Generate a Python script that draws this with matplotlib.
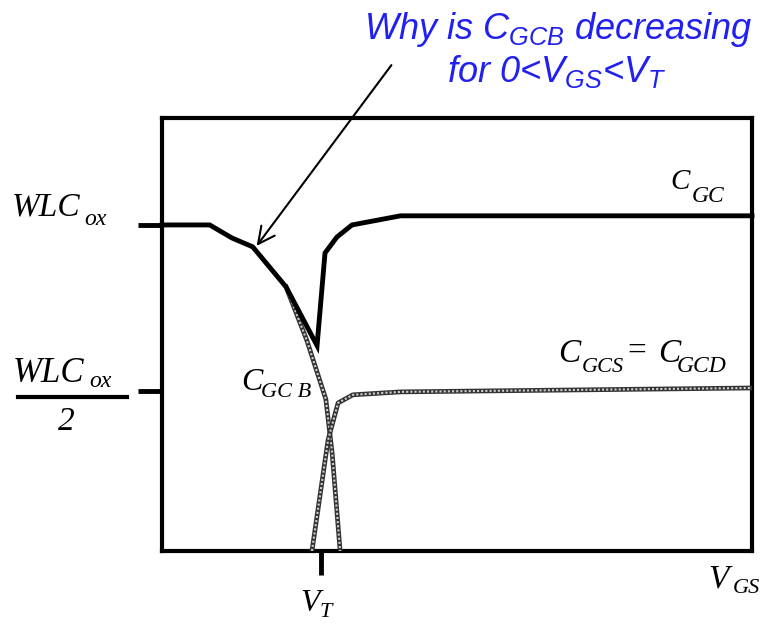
import matplotlib
matplotlib.use("Agg")
import matplotlib.pyplot as plt

plt.rcParams["mathtext.fontset"] = "custom"
plt.rcParams["mathtext.it"] = "Liberation Sans:italic"
plt.rcParams["mathtext.rm"] = "Liberation Sans"

# ── data (x in units of V_T, y in units of WLC_ox) ─────────────────────────
cgc_x = [0.0, 0.30, 0.44, 0.57, 0.78, 0.975, 1.025, 1.10, 1.195, 1.50, 3.71]
cgc_y = [1.0, 1.0, 0.96, 0.933, 0.81, 0.63, 0.914, 0.963, 1.0, 1.028, 1.028]

cgcb_x = [0.78, 0.91, 1.03, 1.07, 1.12]
cgcb_y = [0.81, 0.647, 0.466, 0.30, 0.0]

cgcs_x = [0.943, 1.044, 1.107, 1.20, 1.50, 3.71]
cgcs_y = [0.0, 0.34, 0.454, 0.479, 0.488, 0.50]

y_ticks = [1.0, 0.49]
x_ticks = [1.0]

W, H = 765, 625


def px(x, y):
    return x / W, 1 - y / H


fig = plt.figure(figsize=(W / 100, H / 100), dpi=100)
fig.patch.set_facecolor("white")
ax = fig.add_axes([162 / W, 1 - 551 / H, (752 - 162) / W, (551 - 118) / H])
ax.set_xlim(0, 3.71)
ax.set_ylim(0, 1.328)

for s in ax.spines.values():
    s.set_linewidth(3)
    s.set_color("black")

ax.set_xticks(x_ticks)
ax.set_yticks(y_ticks)
ax.set_xticklabels([])
ax.set_yticklabels([])
ax.tick_params(direction="out", length=17, width=3.5, color="black")

# curves
ax.plot(cgc_x, cgc_y, color="black", lw=3.5, solid_joinstyle="miter",
        clip_on=False, zorder=4)
for xs, ys in [(cgcb_x, cgcb_y), (cgcs_x, cgcs_y)]:
    ax.plot(xs, ys, color="#333333", lw=3.4, zorder=3)
    ax.plot(xs, ys, color="#cfcfcf", lw=1.5, ls=(0, (1, 1)), zorder=3)

# arrow to the C_GCB slope
ax.annotate("", xy=(0.585, 0.929), xytext=(1.453, 1.497),
            xycoords="data", annotation_clip=False,
            arrowprops=dict(arrowstyle="->", color="black", lw=1.5,
                            mutation_scale=30), zorder=6)

# labels (Times-like italic), main letter + lowered subscript
serif = dict(family="Liberation Serif", style="italic", color="black",
             va="baseline")
pieces = [
    ("WLC", 12, 215, 24), ("ox", 84, 225, 17),
    ("WLC", 13, 382, 25), ("ox", 89, 387, 17),
    ("C", 670, 189, 21), ("GC", 692, 202, 17),
    ("C", 558, 362, 24), ("GCS", 582, 372, 16),
    ("C", 658, 362, 24), ("GCD", 677, 372, 17),
    ("C", 241, 390, 23), ("GC B", 261, 397, 16),
    ("V", 300, 611, 23), ("T", 320, 617, 16),
    ("V", 708, 587, 24), ("GS", 733, 593, 16),
]
for txt, x, y, size in pieces:
    fig.text(*px(x, y), txt, fontsize=size, **serif)
fig.text(*px(627, 360), "=", fontsize=24, family="Liberation Serif",
         va="baseline")
fig.text(*px(66, 430), "2", fontsize=24, ha="center", **serif)
fig.add_artist(plt.Line2D([18 / W, 127 / W], [1 - 397 / H] * 2,
                          color="black", lw=3))

# question in blue
bkw = dict(family="Liberation Sans", style="italic", color="#2020f0",
           fontsize=26, ha="center", va="baseline")
fig.text(*px(558, 39), r"Why is $C_{GCB}$ decreasing", **bkw)
fig.text(*px(557, 82), r"for 0<$V_{GS}$<$V_T$", **bkw)

fig.savefig("out.png", dpi=100, facecolor="white")
